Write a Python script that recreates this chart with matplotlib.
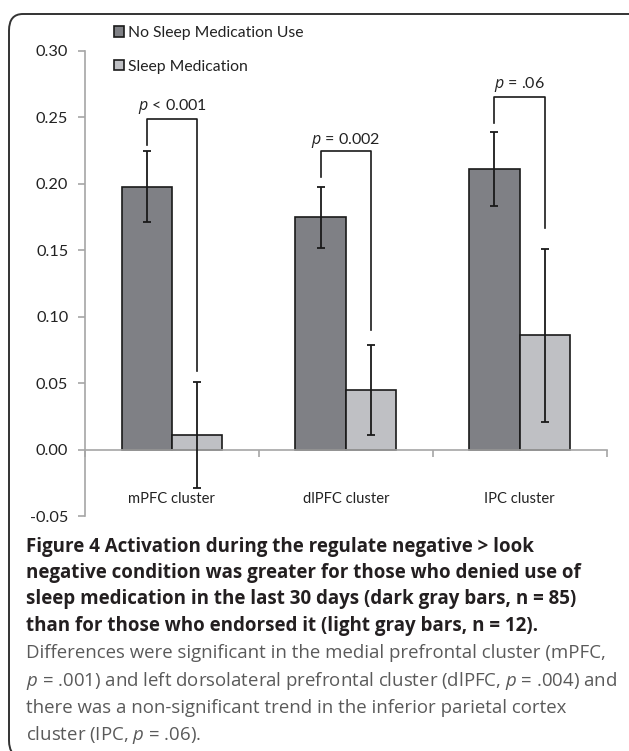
import matplotlib
matplotlib.use('Agg')
import matplotlib.pyplot as plt
from matplotlib.patches import FancyBboxPatch, Patch
import numpy as np

plt.rcParams['font.family'] = ['Lato', 'DejaVu Sans']
plt.rcParams['mathtext.fontset'] = 'custom'
plt.rcParams['mathtext.it'] = 'Open Sans:italic'
plt.rcParams['mathtext.rm'] = 'Open Sans'

# data
clusters   = ['mPFC cluster', 'dlPFC cluster', 'IPC cluster']
no_med     = [0.198, 0.175, 0.211]
no_med_err = [0.027, 0.023, 0.028]
med        = [0.011, 0.045, 0.086]
med_err    = [0.040, 0.034, 0.065]
p_labels   = ['$p$ < 0.001', '$p$ = 0.002', '$p$ = .06']
# brackets: left start, top, right end (data units)
br_left    = [0.229, 0.205, 0.246]
br_top     = [0.249, 0.225, 0.265]
br_right   = [0.059, 0.090, 0.167]
p_y        = [0.258, 0.233, 0.2745]
yticks     = [-0.05, 0.00, 0.05, 0.10, 0.15, 0.20, 0.25, 0.30]
legend_lbl = ['No Sleep Medication Use', 'Sleep Medication']

W, H = 629, 751
fig = plt.figure(figsize=(W/100, H/100), dpi=100)
renderer = fig.canvas.get_renderer()

def fit_size(text, target_px, **kw):
    # font size (pt) that makes text about target_px wide
    t = fig.text(0, 0, text, fontsize=10, **kw)
    w = t.get_window_extent(renderer).width
    t.remove()
    return 10.0*target_px/w

# rounded frame around figure
frame = FancyBboxPatch((9/W, 1-757/H), (645-9)/W, (757-14)/H,
                       boxstyle='round,pad=0,rounding_size=0.022',
                       transform=fig.transFigure, fill=False,
                       edgecolor='#333333', linewidth=1.4)
fig.patches.append(frame)

ax = fig.add_axes([85/W, 1-516/H, (606.5-85)/W, (516-51)/H])
x = np.arange(len(clusters))
bw = 0.29
dark = '#7f8085'
light = '#bfc0c4'
ax.bar(x - bw/2, no_med, bw, color=dark, edgecolor='#1a1a1a', linewidth=1.2, zorder=2)
ax.bar(x + bw/2, med, bw, color=light, edgecolor='#1a1a1a', linewidth=1.2, zorder=2)
ax.errorbar(x - bw/2, no_med, yerr=no_med_err, fmt='none', ecolor='#1a1a1a',
            elinewidth=1.3, capsize=3.2, capthick=1.3, zorder=3)
ax.errorbar(x + bw/2, med, yerr=med_err, fmt='none', ecolor='#1a1a1a',
            elinewidth=1.3, capsize=3.2, capthick=1.3, zorder=3)

# significance brackets
p_size = fit_size(p_labels[0], 69)
for i in range(len(clusters)):
    xl = x[i] - bw/2
    xr = x[i] + bw/2
    ax.plot([xl, xl, xr, xr], [br_left[i], br_top[i], br_top[i], br_right[i]],
            color='#1a1a1a', linewidth=1.2, zorder=3)
    ax.text(x[i], p_y[i], p_labels[i], ha='center', va='center',
            fontsize=p_size, color='#222222')

ax.set_xlim(-0.5, 2.5)
ax.set_ylim(-0.05, 0.30)
ax.set_yticks(yticks)
ax.set_yticklabels(['%0.2f' % t for t in yticks])
ax.set_xticks([-0.5, 0.5, 1.5, 2.5])
ax.set_xticklabels([])
cat_size = fit_size(clusters[0], 86)
for c, name in zip(x, clusters):
    ax.text(c, -0.037, name, ha='center', va='center', fontsize=cat_size, color='#222222')

for s in ['top', 'right']:
    ax.spines[s].set_visible(False)
ax.spines['bottom'].set_position(('data', 0))
ax.spines['bottom'].set_color('#a6a6a6')
ax.spines['left'].set_color('#a6a6a6')
ax.spines['bottom'].set_linewidth(1.2)
ax.spines['left'].set_linewidth(1.2)
tick_size = fit_size('0.30', 32)
ax.tick_params(axis='both', direction='out', length=5, color='#a6a6a6', width=1.2)
ax.tick_params(axis='y', labelsize=tick_size, labelcolor='#222222', pad=7)

leg_size = fit_size(legend_lbl[1], 120)
sq = 10.0/(leg_size*100/72)
handles = [Patch(facecolor=dark, edgecolor='#1a1a1a', linewidth=1.2),
           Patch(facecolor=light, edgecolor='#1a1a1a', linewidth=1.2)]
fig.legend(handles, legend_lbl,
           loc='upper left', bbox_to_anchor=(114/W, 1-26/H), frameon=False,
           fontsize=leg_size, handlelength=sq, handleheight=sq, handletextpad=0.25,
           labelspacing=1.25, borderpad=0, borderaxespad=0, labelcolor='#222222')

# caption
bold_lines = ['Figure 4 Activation during the regulate negative > look',
              'negative condition was greater for those who denied use of',
              'sleep medication in the last 30 days (dark gray bars, n = 85)',
              'than for those who endorsed it (light gray bars, n = 12).']
reg_lines = ['Differences were significant in the medial prefrontal cluster (mPFC,',
             '$p$ = .001) and left dorsolateral prefrontal cluster (dlPFC, $p$ = .004) and',
             'there was a non-significant trend in the inferior parietal cortex',
             'cluster (IPC, $p$ = .06).']
cap_font = ['Open Sans', 'DejaVu Sans']
b_size = fit_size(bold_lines[0], 511, fontweight='bold', family=cap_font)
r_size = fit_size(reg_lines[0], 582, family=cap_font)
ys = [547, 573, 599, 626, 653, 681, 708, 735]
for k, line in enumerate(bold_lines):
    fig.text(26/W, 1-ys[k]/H, line, ha='left', va='center', fontsize=b_size,
             fontweight='bold', color='#231f20', family=cap_font)
for k, line in enumerate(reg_lines):
    fig.text(26/W, 1-ys[k+4]/H, line, ha='left', va='center', fontsize=r_size,
             color='#5a5a5a', family=cap_font)

fig.savefig('out.png', dpi=100)
